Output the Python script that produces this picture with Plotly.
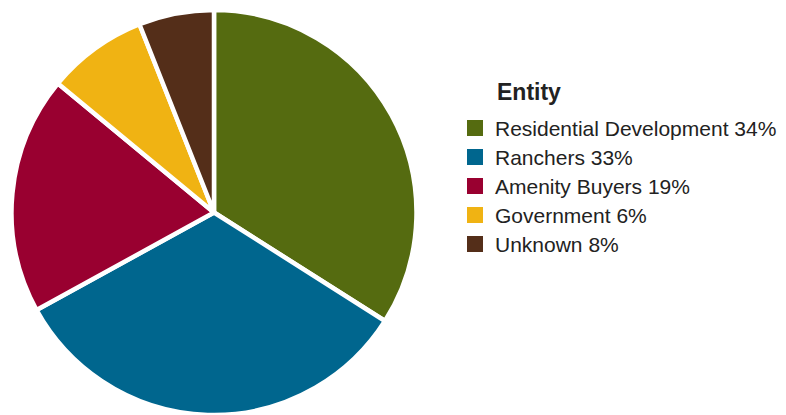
import plotly.graph_objects as go

# Data
labels = ["Residential Development", "Ranchers", "Amenity Buyers", "Government", "Unknown"]
legend_labels = ["Residential Development 34%", "Ranchers 33%", "Amenity Buyers 19%",
                 "Government 6%", "Unknown 8%"]
values = [34, 33, 19, 8, 6]
colors = ["#556B10", "#00668E", "#990030", "#F0B313", "#542E19"]
legend_title = "Entity"

W, H = 786, 415

fig = go.Figure()
fig.add_trace(go.Pie(
    labels=labels, values=values, sort=False, direction="clockwise", rotation=0,
    marker=dict(colors=colors, line=dict(color="white", width=4.5)),
    textinfo="none", hoverinfo="skip", showlegend=False,
    domain=dict(x=[0, 428 / W], y=[0, 1]),
))

# Legend entries (square swatches)
for i, (lab, col) in enumerate(zip(legend_labels, colors)):
    fig.add_trace(go.Scatter(
        x=[None], y=[None], mode="markers",
        name=f"<span style='font-size:21px'>{lab}</span>", legendgroup=f"g{i}",
        marker=dict(symbol="square", size=16, color=col, line=dict(width=0)),
        hoverinfo="skip",
    ))

fig.update_layout(
    width=W, height=H,
    margin=dict(l=0, r=0, t=10, b=0),
    paper_bgcolor="white", plot_bgcolor="white",
    xaxis=dict(visible=False), yaxis=dict(visible=False),
    showlegend=True,
    legend=dict(
        x=455 / W, xanchor="left", y=1 - 101 / H, yanchor="top",
        traceorder="grouped", tracegroupgap=0,
        font=dict(family="Liberation Sans, Arial, sans-serif", size=20, color="#222222"),
        bgcolor="rgba(0,0,0,0)", borderwidth=0, itemclick=False, itemdoubleclick=False,
    ),
    annotations=[dict(
        text=f"<b>{legend_title}</b>", x=495 / W, y=1 - 84 / H, xref="paper", yref="paper",
        xanchor="left", yanchor="middle", showarrow=False,
        font=dict(family="Liberation Sans, Arial, sans-serif", size=23, color="#222222"),
    )],
)

fig.write_html("out.html")
